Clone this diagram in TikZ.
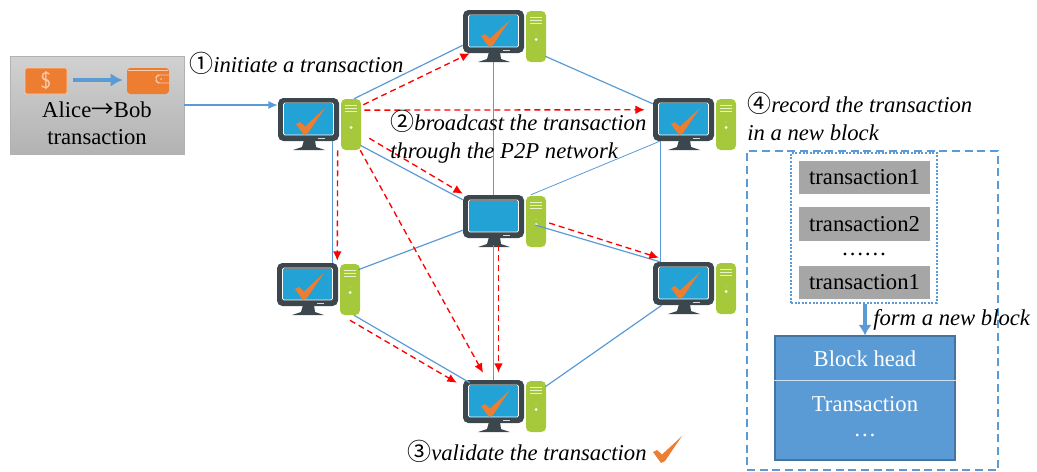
\documentclass[tikz,border=0pt]{standalone}
\usepackage{fontspec}
\setmainfont{Liberation Serif}
\newfontfamily\circledFont{Noto Sans CJK SC}
\usetikzlibrary{calc,arrows.meta}
\definecolor{pcDark}{HTML}{3B464D}
\definecolor{pcBlue}{HTML}{23A2D6}
\definecolor{pcGreen}{HTML}{A6C93C}
\definecolor{tickOrange}{HTML}{ED7D31}
\definecolor{linkBlue}{HTML}{5B9BD5}
\definecolor{paleOrange}{HTML}{F8CBAD}
\definecolor{relayRed}{HTML}{FE0000}
\newcommand{\labelFont}{\fontsize{17}{20}\selectfont}
\newcommand{\stepMark}[1]{{\circledFont\fontsize{18}{20}\selectfont #1}}
\tikzset{
	pcMonitor/.style={draw=none, fill=pcDark, rounded corners=4pt, minimum width=45.75pt, minimum height=32.25pt, inner sep=0pt},
	pcTower/.style={fill=pcGreen, rounded corners=3.5pt, minimum width=15pt, minimum height=38.25pt, inner sep=0pt},
	link/.style={linkBlue, line width=.9pt},
	relay/.style={draw=relayRed, line width=1pt, dash pattern=on 4.5pt off 3pt, -{Latex[length=7pt,width=6.5pt,fill=relayRed]}},
	caption/.style={font=\labelFont\itshape, anchor=base west, inner sep=0pt},
	plain/.style={font=\labelFont, inner sep=0pt},
	txBox/.style={fill=black!35, minimum width=98.25pt, minimum height=25pt, font=\labelFont, inner sep=0pt}
}
\newcommand{\pcIcon}[3]{
	\begin{scope}[shift={(#2,#3)}]
		\fill[pcDark] (26,42) -- (37,42) -- (38,49) -- (47,52) -- (15,52) -- (24,49) -- cycle;
		\node[pcMonitor] (#1) at (30.5,21.5) {};
		\fill[pcBlue] (6,5.5) rectangle (55,36.5);
		\draw[white, line width=.6pt, rounded corners=1pt] (5.5,5) rectangle (55.5,37);
		\draw[white!80!pcDark, line width=.7pt] (40,40) -- (47,40);
		\node[pcTower] (#1T) at (73,26.5) {};
		\foreach \lineY in {7,10,13}
		{
			\draw[white!75!pcGreen, line width=.7pt] (67,\lineY) -- (79,\lineY);
		}
		\fill[white] (73,24) circle (.4) (73,29.5) circle (1.5);
	\end{scope}
}
\newcommand{\orangeTick}[2]{
	\fill[tickOrange, shift={(#1,#2)}] (18,26) -- (22,24) -- (27,28.5) -- (47,10) -- (30,35) -- (26,37) -- cycle;
}
\begin{document}
\begin{tikzpicture}[x=.75pt, y=-.75pt]
	\useasboundingbox (0,0) rectangle (1037,471);
	
	% computers
	\foreach \name/\posX/\posY in {pcTop/463/10, pcLeft/278/98, pcRight/653/98, pcMid/463/195, pcLowLeft/277/263, pcLowRight/653/262, pcBottom/463/380}
	{
		\pcIcon{\name}{\posX}{\posY}
	}
	\foreach \posX/\posY in {463/10, 278/98, 653/98, 277/263, 653/262, 463/380}
	{
		\orangeTick{\posX}{\posY}
	}
	
	% wallet box
	\node[draw=black!30, top color=black!18, bottom color=black!30, minimum width=130.5pt, minimum height=73.5pt, inner sep=0pt] (aliceBox) at (97,105) {};
	\node[fill=tickOrange, draw=paleOrange, line width=.7pt, minimum width=31.5pt, minimum height=19.5pt, inner sep=0pt, rounded corners=1pt] (moneyIcon) at (46,81) {\color{paleOrange}\fontsize{17}{20}\sffamily\selectfont\$};
	\node[fill=tickOrange, minimum width=31.5pt, minimum height=19.5pt, inner sep=0pt, rounded corners=2.5pt] (walletIcon) at (148,81) {};
	\draw[paleOrange, line width=.6pt] (128,70) -- (168,70);
	\draw[paleOrange, line width=.6pt, rounded corners=1.5pt] (169,75) -- (158,75) -- (156,77) -- (156,81) -- (158,83) -- (169,83);
	\fill[paleOrange] (161,79) circle (1);
	\draw[linkBlue, line width=3pt, -{Latex[length=9pt,width=10pt]}] (moneyIcon.east) ++(6,-1) -- ($(walletIcon.west)+(-4,-1)$);
	\node[plain] (aliceText) at (97,110) {Alice{\circledFont →}Bob};
	\node[plain] (aliceText2) at (97,137) {transaction};
	
	% network links
	\draw[link, -{Latex[length=7pt,width=6pt]}] (aliceBox.east) -- (aliceBox.east -| pcLeft.west);
	\draw[link] ($(pcLeftT.north)+(3,0)$) -- ($(pcTop.south west)+(0,-8)$);
	\draw[link] ($(pcTop.south)+(0,9)$) -- (pcMid.north);
	\draw[link] ($(pcTopT.south east)+(-1,-6)$) -- ($(pcRight.north west)+(0,6)$);
	\draw[link] ($(pcLeft.south east)+(-7,0)$) -- ($(pcLowLeft.north east)+(-6,0)$);
	\draw[link] ($(pcLeftT.south east)+(-1,-5)$) -- ($(pcMid.north west)+(0,5)$);
	\draw[link, line width=.6pt] ($(pcMidT.north)+(-5,-1)$) -- ($(pcRight.south west)+(7,0)$);
	\draw[link] ($(pcRight.south west)+(8,0)$) -- ($(pcLowRight.north west)+(8,0)$);
	\draw[link] ($(pcMid.south west)+(0,-8)$) -- ($(pcLowLeftT.north east)+(-2,6)$);
	\draw[link] ($(pcMidT.center)+(-1,3.5)$) -- ($(pcLowRight.north west)+(7,0)$);
	\draw[link] ($(pcMid.south)+(0,7)$) -- (pcBottom.north);
	\draw[link] ($(pcLowLeftT.south)+(4,0)$) -- ($(pcBottom.north west)+(7,3)$);
	\draw[link] ($(pcBottomT.north east)+(-1,6)$) -- ($(pcLowRight.south west)+(9,0)$);
	
	% broadcast paths
	\draw[relay] ($(pcLeftT.north east)+(2,6)$) -- ($(pcTop.south west)+(7,0)$);
	\draw[relay] ($(pcLeftT.north east)+(3,11.4)$) -- ($(pcRight.north west)+(-8,12)$);
	\draw[relay] ($(pcLeftT.south east)+(8,-12)$) -- ($(pcMid.north west)+(0,-1)$);
	\draw[relay] ($(pcLeft.south east)+(-1.6,9)$) -- ($(pcLowLeft.north east)+(-1,-2)$);
	\draw[relay] ($(pcLeftT.south east)+(-1,0)$) -- ($(pcBottom.north)+(-10.5,-7)$);
	\draw[relay] ($(pcMid.south)+(5,7)$) -- ($(pcBottom.north)+(5,-7)$);
	\draw[relay] ($(pcMidT.east)+(3,1.5)$) -- ($(pcLowRight.north west)+(6,-4)$);
	\draw[relay] ($(pcLowLeftT.south)+(0,5)$) -- ($(pcBottom.north west)+(-6,3)$);
	
	% step labels
	\node[caption] (stepOne) at (189,72) {\stepMark{①}initiate a transaction};
	\node[caption] (stepTwo) at (390,130) {\stepMark{②}broadcast the transaction};
	\node[caption] (stepTwoB) at (390,158) {through the P2P network};
	\node[caption] (stepThree) at (407,460) {\stepMark{③}validate the transaction};
	\orangeTick{635}{426}
	\node[caption] (stepFour) at (747,112) {\stepMark{④}record the transaction};
	\node[caption] (stepFourB) at (747,140) {in a new block};
	
	% new block
	\node[draw=linkBlue, line width=1pt, dash pattern=on 6pt off 3.5pt, minimum width=188.25pt, minimum height=239.25pt, inner sep=0pt] (blockFrame) at (872.5,310.5) {};
	\node[draw=linkBlue, line width=1pt, dash pattern=on 1.5pt off 1.2pt, minimum width=109.5pt, minimum height=112.5pt, inner sep=0pt] (txFrame) at (864,228) {};
	\node[txBox] (txOne) at (864.5,177.5) {transaction1};
	\node[txBox] (txTwo) at (864.5,224) {transaction2};
	\node[txBox] (txLast) at (864.5,282.5) {transaction1};
	\node[plain] (txDots) at (864,254) {……};
	\node[fill=linkBlue, draw=linkBlue!75!black, line width=.8pt, minimum width=135pt, minimum height=93pt, inner sep=0pt] (blockBody) at (865,398) {};
	\coordinate (blockTop) at (blockBody.north);
	\draw[white!70!linkBlue, line width=.6pt] ($(blockBody.north west)+(0,45)$) -- ($(blockBody.north east)+(0,45)$);
	\node[plain, text=white] (blockHead) at (865,359) {Block head};
	\node[plain, text=white] (blockTx) at (865,404) {Transaction};
	\node[plain, text=white] (blockDots) at (865,435) {…};
	\draw[linkBlue, line width=3pt, -{Latex[length=8pt,width=10pt]}] (txFrame.south -| blockTop) -- (blockTop);
	\node[caption] (formBlock) at (873,325) {form a new block};
\end{tikzpicture}
\end{document}
